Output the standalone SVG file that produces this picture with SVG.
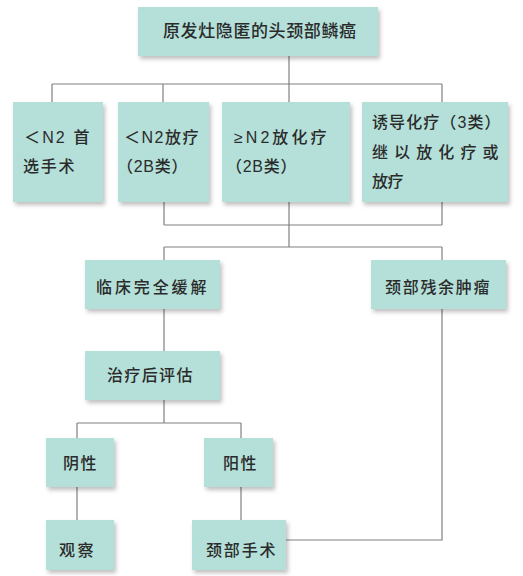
<svg xmlns="http://www.w3.org/2000/svg" width="523" height="576" viewBox="0 0 523 576">
<style>
.box{fill:#b4e0d9;filter:url(#sh)}
.t{font-family:"Liberation Sans","Noto Sans CJK SC",sans-serif;font-size:16px;font-weight:500;fill:#2b2b2b;letter-spacing:1.5px}
#conn line,#conn polyline{stroke:#808080;stroke-width:1.2;fill:none}
</style>
<defs>
<filter id="sh" x="-10%" y="-10%" width="130%" height="140%">
<feDropShadow dx="2" dy="3" stdDeviation="2" flood-color="#000" flood-opacity="0.25"/>
</filter>
</defs>
<rect width="523" height="576" fill="#fff"/>
<g id="conn">
<line x1="289" y1="56" x2="289" y2="84"/>
<line x1="52" y1="84" x2="442" y2="84"/>
<line x1="52" y1="84" x2="52" y2="102"/>
<line x1="163" y1="84" x2="163" y2="102"/>
<line x1="289" y1="84" x2="289" y2="102"/>
<line x1="442" y1="84" x2="442" y2="102"/>
<line x1="164" y1="202" x2="164" y2="225"/>
<line x1="289" y1="202" x2="289" y2="247"/>
<line x1="442" y1="202" x2="442" y2="225"/>
<line x1="164" y1="225" x2="442" y2="225"/>
<line x1="164" y1="247" x2="442" y2="247"/>
<line x1="164" y1="247" x2="164" y2="260"/>
<line x1="442" y1="247" x2="442" y2="260"/>
<line x1="164" y1="309" x2="164" y2="351"/>
<line x1="164" y1="400" x2="164" y2="423"/>
<line x1="77" y1="423" x2="241" y2="423"/>
<line x1="77" y1="423" x2="77" y2="438"/>
<line x1="241" y1="423" x2="241" y2="438"/>
<line x1="77" y1="487" x2="77" y2="520"/>
<line x1="241" y1="487" x2="241" y2="520"/>
<polyline points="286,540 442,540 442,309"/>
</g>
<g id="n0"><rect class="box" x="138" y="7" width="240" height="49"/><text class="t" x="163" y="37" style="font-size:17px;letter-spacing:1px" textLength="194">原发灶隐匿的头颈部鳞癌</text></g>
<g id="n1"><rect class="box" x="13" y="102" width="90" height="100"/><text class="t" x="24" y="143" textLength="67">＜N2 首</text><text class="t" x="23" y="172" textLength="53">选手术</text></g>
<g id="n2"><rect class="box" x="118" y="102" width="91" height="100"/><text class="t" x="124" y="143" textLength="76">＜N2放疗</text><text class="t" x="117" y="172" textLength="72">（2B类）</text></g>
<g id="n3"><rect class="box" x="222" y="102" width="128" height="100"/><text class="t" x="234" y="143" textLength="94">≥N2放化疗</text><text class="t" x="226" y="172" textLength="72">（2B类）</text></g>
<g id="n4"><rect class="box" x="362" y="102" width="146" height="100"/><text class="t" x="372" y="128" textLength="130">诱导化疗（3类）</text><text class="t" x="372" y="158" textLength="128">继以放化疗或</text><text class="t" x="372" y="187" textLength="33">放疗</text></g>
<g id="n5"><rect class="box" x="85" y="260" width="135" height="49"/><text class="t" x="96" y="293" textLength="112">临床完全缓解</text></g>
<g id="n6"><rect class="box" x="371" y="260" width="135" height="49"/><text class="t" x="385" y="293" textLength="106">颈部残余肿瘤</text></g>
<g id="n7"><rect class="box" x="85" y="351" width="135" height="49"/><text class="t" x="107" y="381" textLength="87">治疗后评估</text></g>
<g id="n8"><rect class="box" x="46" y="438" width="68" height="49"/><text class="t" x="63" y="469" textLength="35">阴性</text></g>
<g id="n9"><rect class="box" x="204" y="438" width="69" height="49"/><text class="t" x="223" y="469" textLength="35">阳性</text></g>
<g id="n10"><rect class="box" x="46" y="520" width="68" height="50"/><text class="t" x="59" y="556" textLength="36">观察</text></g>
<g id="n11"><rect class="box" x="192" y="520" width="94" height="50"/><text class="t" x="206" y="556" textLength="71">颈部手术</text></g>
</svg>
